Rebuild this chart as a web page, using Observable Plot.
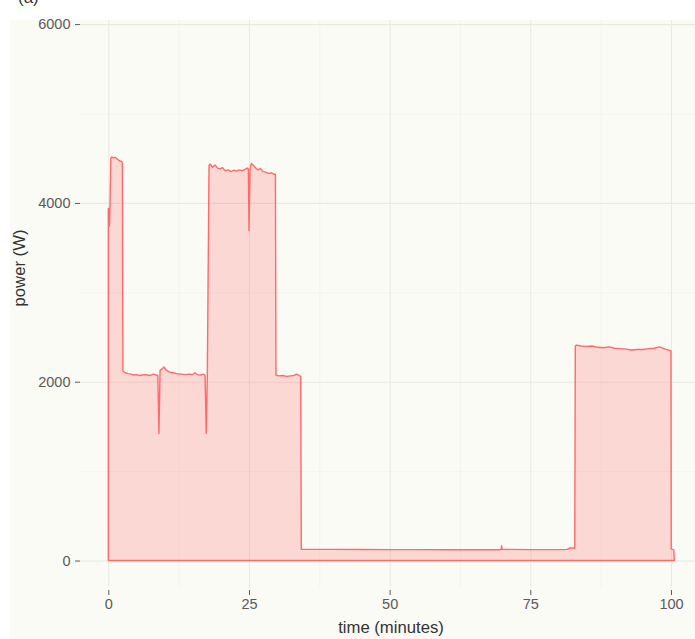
<!DOCTYPE html>
<html>
<head>
<meta charset="utf-8">
<script src="https://cdn.jsdelivr.net/npm/d3@7"></script>
<script src="https://cdn.jsdelivr.net/npm/@observablehq/plot@0.6"></script>
<style>
  html, body { margin: 0; padding: 0; background: #ffffff; }
  #wrap { position: relative; width: 695px; height: 639px; overflow: hidden; background: #ffffff;
          font-family: "Liberation Sans", Arial, Helvetica, sans-serif; }
  #bg { position: absolute; left: 10px; top: 20px; right: 0; bottom: 0; background: #FBFBF6; }
  #chart { position: absolute; left: 0; top: 0; }
  .ttl { position: absolute; color: #333333; font-size: 16.7px; white-space: nowrap; line-height: 20px; }
  #xt { left: 291px; width: 200px; top: 618px; text-align: center; }
  #yt { left: 20px; top: 268px; transform: translate(-50%, -50%) rotate(-90deg); }
  #tag { position: absolute; left: 18px; top: -11px; font-size: 17px; color: #333; line-height: 17px; }
</style>
</head>
<body>
<div id="wrap">
  <div id="bg"></div>
  <div id="tag">(a)</div>
  <div id="chart"></div>
  <div id="xt" class="ttl">time (minutes)</div>
  <div id="yt" class="ttl">power (W)</div>
</div>
<script>
// time in minutes
const time = [
  0, 0.1, 0.2, 0.3, 0.45, 0.6, 0.9, 1.2, 1.5, 1.8, 2.1, 2.4, 2.5,
  2.6, 3.0, 3.5, 4.0, 4.5, 5.0, 5.5, 6.0, 6.5, 7.0, 7.5, 8.0, 8.5, 8.8,
  9.0, 9.2, 9.5, 9.9, 10.3, 10.8, 11.5, 12.2, 13.0, 13.7, 14.4, 15.0, 15.4, 15.8, 16.4, 16.9, 17.2,
  17.4, 17.6,
  17.9, 18.1, 18.5, 19.0, 19.4, 19.8, 20.3, 20.8, 21.3, 21.8, 22.3, 22.8, 23.3, 23.8, 24.3, 24.7, 24.9,
  25.0, 25.2, 25.4, 25.8, 26.2, 26.6, 27.0, 27.5, 28.0, 28.5, 29.0, 29.5, 29.7,
  29.8, 30.3, 31.0, 31.7, 32.4, 33.0, 33.5, 34.0, 34.2,
  34.3, 40, 45, 50, 55, 60, 65, 69.8, 69.9, 70.0, 75, 80, 81.5, 82, 82.9,
  83.0, 83.2, 84, 85, 86, 87, 88, 89, 90, 91, 92, 93, 94, 95, 96, 97, 98, 99, 99.8, 100.0,
  100.05, 100.5, 100.6
];
// power in watts
const power = [
  3940, 3900, 3740, 3960, 4500, 4515, 4505, 4510, 4495, 4480, 4470, 4460, 4450,
  2120, 2100, 2090, 2085, 2075, 2080, 2070, 2075, 2080, 2075, 2070, 2085, 2075, 2070,
  1420, 2130, 2140, 2165, 2130, 2110, 2100, 2090, 2085, 2080, 2085, 2080, 2100, 2080, 2075, 2085, 2070,
  1420, 2070,
  4420, 4435, 4400, 4425, 4390, 4380, 4395, 4360, 4370, 4350, 4365, 4355, 4370, 4360, 4375, 4390, 4380,
  3690, 4380, 4440, 4420, 4390, 4370, 4385, 4350, 4345, 4330, 4335, 4320, 4320,
  2075, 2065, 2070, 2060, 2065, 2070, 2085, 2065, 2060,
  125, 125, 123, 122, 122, 121, 121, 121, 165, 125, 122, 122, 125, 140, 140,
  2400, 2410, 2400, 2395, 2400, 2385, 2380, 2390, 2375, 2370, 2365, 2355, 2360, 2360, 2370, 2375, 2390, 2365, 2350, 2345,
  130, 120, 0
];
const xTicks = [0, 25, 50, 75, 100];
const xMinor = [12.5, 37.5, 62.5, 87.5];
const yTicks = [0, 2000, 4000, 6000];
const yMinor = [1000, 3000, 5000];

const data = time.map((t, i) => ({t, w: power[i]}));

const chart = Plot.plot({
  width: 695,
  height: 639,
  marginLeft: 80,
  marginRight: 0,
  marginTop: 20,
  marginBottom: 52,
  style: {background: "transparent", fontFamily: "Liberation Sans, Arial, sans-serif", overflow: "visible"},
  x: {domain: [-5.03, 104.27], nice: false},
  y: {domain: [-296, 6046], nice: false},
  marks: [
    Plot.gridX(xMinor, {stroke: "#F2F2EC", strokeOpacity: 1, strokeWidth: 0.8}),
    Plot.gridY(yMinor, {stroke: "#F2F2EC", strokeOpacity: 1, strokeWidth: 0.8}),
    Plot.gridX(xTicks, {stroke: "#EAEAE4", strokeOpacity: 1, strokeWidth: 1.1}),
    Plot.gridY(yTicks, {stroke: "#EAEAE4", strokeOpacity: 1, strokeWidth: 1.1}),
    Plot.areaY(data, {x: "t", y: "w", fill: "#FF3030", fillOpacity: 0.17,
                      stroke: "#FF6A6A", strokeWidth: 1.4, curve: "linear"}),
    Plot.axisY(yTicks, {tickFormat: d3.format("d"), tickSize: 5, tickPadding: 5,
                        fontSize: 14.5, color: "#5a5a5a", label: null}),
    Plot.axisX(xTicks, {tickFormat: d3.format("d"), tickSize: 5, tickPadding: 3, dy: 3,
                        fontSize: 14.5, color: "#5a5a5a", label: null})
  ]
});
document.getElementById("chart").appendChild(chart);
</script>
</body>
</html>
